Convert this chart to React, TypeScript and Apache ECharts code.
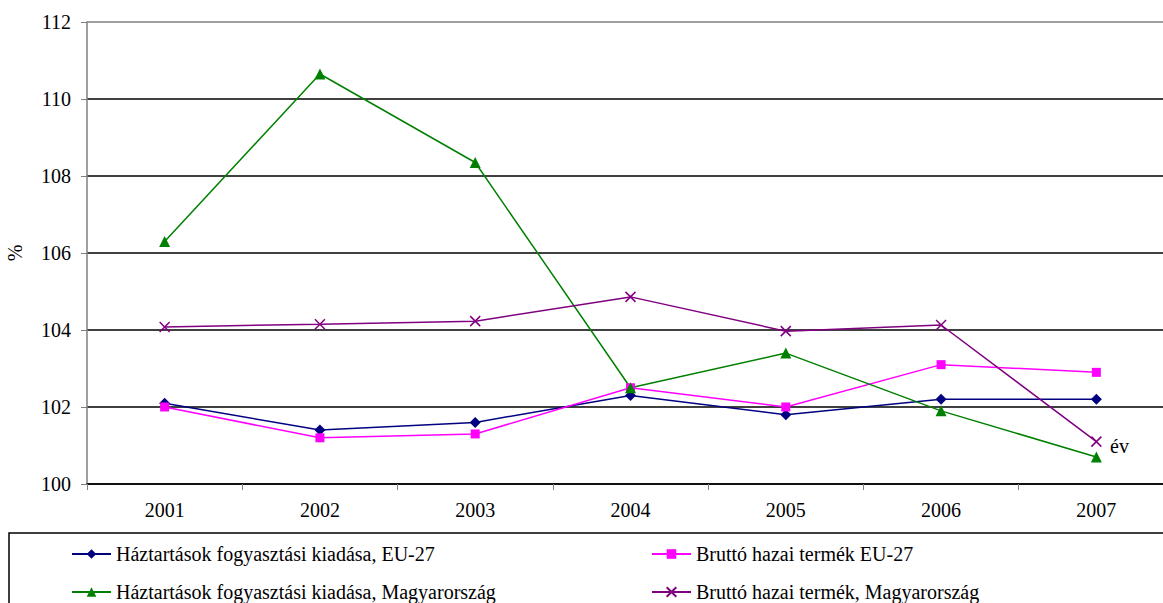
import React, { useEffect, useRef } from "react";
import * as echarts from "echarts";

const years = ["2001", "2002", "2003", "2004", "2005", "2006", "2007"];
const euHousehold = [102.1, 101.4, 101.6, 102.3, 101.8, 102.2, 102.2];
const euGdp = [102.0, 101.2, 101.3, 102.5, 102.0, 103.1, 102.9];
const huHousehold = [106.3, 110.65, 108.35, 102.5, 103.4, 101.9, 100.7];
const huGdp = [104.08, 104.15, 104.23, 104.86, 103.97, 104.13, 101.1];

const names = [
  "Háztartások fogyasztási kiadása, EU-27",
  "Bruttó hazai termék EU-27",
  "Háztartások fogyasztási kiadása, Magyarország",
  "Bruttó hazai termék, Magyarország",
];

const FONT = "'Liberation Serif', 'Times New Roman', serif";
const FS = 20;

export default function App() {
  const ref = useRef<HTMLDivElement>(null);
  useEffect(() => {
    const chart = echarts.init(ref.current!, null, { renderer: "svg" });
    const lineSeries = (name: string, data: number[], color: string, symbol: string, size: number) => ({
      name,
      type: "line",
      data,
      symbol,
      symbolSize: size,
      showSymbol: true,
      lineStyle: { color, width: 1.5 },
      itemStyle: { color },
    });
    const legendBase = {
      orient: "vertical",
      top: 544,
      height: 200,
      itemWidth: 39,
      itemHeight: 12,
      itemGap: 18,
      padding: 0,
      textStyle: { fontSize: FS, fontFamily: FONT, color: "#000" },
    };
    chart.setOption({
      animation: false,
      textStyle: { fontFamily: FONT },
      grid: { left: 87, top: 22, right: -11, bottom: 119, containLabel: false, outerBoundsMode: "none" },
      xAxis: {
        type: "category",
        data: years,
        boundaryGap: true,
        axisLine: { show: true, lineStyle: { color: "#000", width: 1.5 } },
        axisTick: { show: true, length: 6, lineStyle: { color: "#808080" } },
        axisLabel: { color: "#000", fontSize: FS, fontFamily: FONT, margin: 16 },
        splitLine: { show: false },
      },
      yAxis: {
        type: "value",
        min: 100,
        max: 112,
        interval: 2,
        name: "%",
        nameLocation: "middle",
        nameRotate: 90,
        nameGap: 62,
        nameTextStyle: { color: "#000", fontSize: FS, fontFamily: FONT },
        axisLine: { show: true, lineStyle: { color: "#808080", width: 1.5 } },
        axisTick: { show: true, length: 6, inside: false, lineStyle: { color: "#808080" } },
        axisLabel: { color: "#000", fontSize: FS, fontFamily: FONT, margin: 16 },
        splitLine: {
          show: true,
          lineStyle: {
            color: ["#000", "#000", "#000", "#000", "#000", "#000", "#808080"],
            width: 1.5,
          },
        },
      },
      legend: [
        { ...legendBase, data: [names[0], names[2]], left: 71 },
        { ...legendBase, data: [names[1], names[3]], left: 651 },
      ],
      graphic: [
        {
          type: "rect",
          shape: { x: 9, y: 533, width: 1170, height: 100 },
          style: { fill: "none", stroke: "#000", lineWidth: 1.5 },
          z: -1,
        },
        {
          type: "text",
          x: 1110,
          y: 436,
          style: { text: "év", fontSize: FS, fontFamily: FONT, fill: "#000" },
        },
      ],
      series: [
        lineSeries(names[0], euHousehold, "#000080", "diamond", 11),
        lineSeries(names[1], euGdp, "#FF00FF", "rect", 9),
        lineSeries(names[2], huHousehold, "#008000", "triangle", 11),
        {
          ...lineSeries(names[3], huGdp, "#800080", "path://M0,0L10,10M10,0L0,10", 10),
          itemStyle: { color: "none", borderColor: "#800080", borderWidth: 1.5 },
        },
      ],
    });
    return () => chart.dispose();
  }, []);
  return (
    <div
      ref={ref}
      style={{ position: "absolute", left: 0, top: 0, width: 1163, height: 603, background: "#fff" }}
    />
  );
}
